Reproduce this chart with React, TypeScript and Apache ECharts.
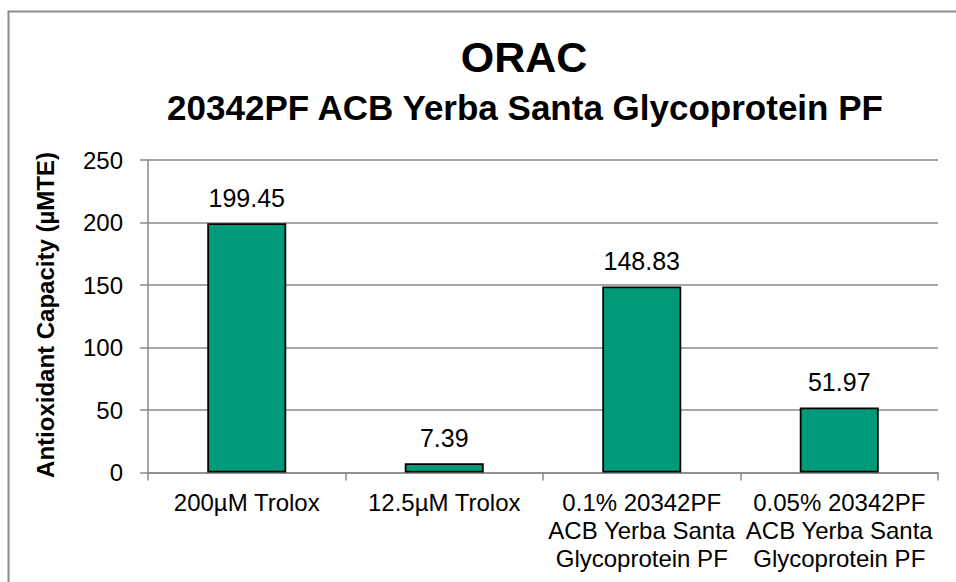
import React, { useEffect, useRef } from "react";
import * as echarts from "echarts";

const categories: string[] = [
  "200µM Trolox",
  "12.5µM Trolox",
  "0.1% 20342PF\nACB Yerba Santa\nGlycoprotein PF",
  "0.05% 20342PF\nACB Yerba Santa\nGlycoprotein PF",
];
const values: number[] = [199.45, 7.39, 148.83, 51.97];
const valueLabels: string[] = ["199.45", "7.39", "148.83", "51.97"];
const yTicks: number[] = [0, 50, 100, 150, 200, 250];
const titleText = "ORAC";
const subtitleText = "20342PF ACB Yerba Santa Glycoprotein PF";
const yAxisName = "Antioxidant Capacity (µMTE)";

const FONT = "'Liberation Sans', Arial, Helvetica, sans-serif";

export default function App() {
  const ref = useRef<HTMLDivElement>(null);
  useEffect(() => {
    if (!ref.current) return;
    const chart = echarts.init(ref.current, undefined, { renderer: "svg" });
    chart.setOption({
      animation: false,
      backgroundColor: "#ffffff",
      textStyle: { fontFamily: FONT },
      graphic: [
        {
          type: "rect",
          shape: { x: 8.5, y: 11.5, width: 1040, height: 700 },
          style: { fill: "none", stroke: "#8a8a8a", lineWidth: 2 },
          silent: true,
        },
        {
          type: "text",
          x: 524,
          y: 57,
          style: {
            text: titleText,
            font: `bold 43px ${FONT}`,
            fill: "#000",
            align: "center",
            verticalAlign: "middle",
          },
        },
        {
          type: "text",
          x: 525,
          y: 107,
          style: {
            text: subtitleText,
            font: `bold 35px ${FONT}`,
            fill: "#000",
            align: "center",
            verticalAlign: "middle",
          },
        },
        {
          type: "text",
          x: 45,
          y: 315,
          rotation: Math.PI / 2,
          style: {
            text: yAxisName,
            font: `bold 24px ${FONT}`,
            fill: "#000",
            align: "center",
            verticalAlign: "middle",
          },
        },
      ],
      grid: { left: 148, right: 18, top: 160, bottom: 109.5, containLabel: false },
      xAxis: {
        type: "category",
        data: categories,
        boundaryGap: true,
        axisLine: { lineStyle: { color: "#8a8a8a", width: 1.5 } },
        axisTick: { show: true, length: 8, lineStyle: { color: "#8a8a8a", width: 1.5 } },
        axisLabel: {
          interval: 0,
          color: "#000",
          fontSize: 24,
          fontFamily: FONT,
          lineHeight: 28,
          margin: 16,
        },
      },
      yAxis: {
        type: "value",
        min: yTicks[0],
        max: yTicks[yTicks.length - 1],
        interval: 50,
        axisLine: { show: true, lineStyle: { color: "#8a8a8a", width: 1.5 } },
        axisTick: { show: true, length: 8, lineStyle: { color: "#8a8a8a", width: 1.5 } },
        splitLine: { lineStyle: { color: "#8a8a8a", width: 1.5 } },
        axisLabel: { color: "#000", fontSize: 24, fontFamily: FONT, margin: 25 },
      },
      series: [
        {
          type: "bar",
          data: values,
          barWidth: 79,
          itemStyle: { color: "#009a7b", borderColor: "#000", borderWidth: 1.8 },
          label: {
            show: true,
            position: "top",
            distance: 13,
            color: "#000",
            fontSize: 25,
            fontFamily: FONT,
            formatter: (p: any) => valueLabels[p.dataIndex],
          },
        },
      ],
    });
    return () => chart.dispose();
  }, []);
  return (
    <div
      ref={ref}
      style={{ position: "fixed", left: 0, top: 0, width: 956, height: 582 }}
    />
  );
}
